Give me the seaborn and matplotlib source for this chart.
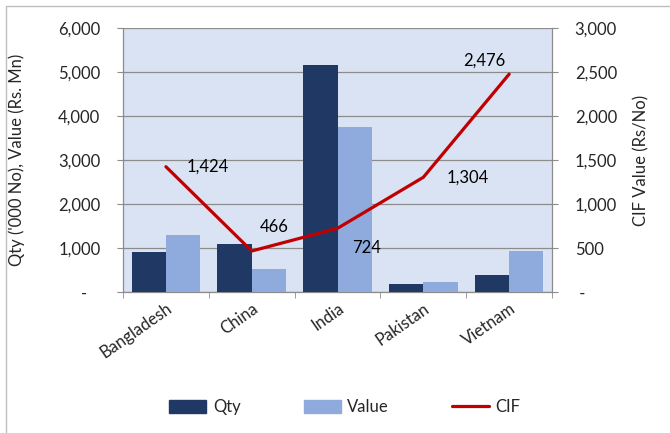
import numpy as np
import pandas as pd
import matplotlib
matplotlib.use("Agg")
import matplotlib.pyplot as plt
from matplotlib.ticker import FuncFormatter, FixedLocator
from matplotlib.patches import Rectangle
from matplotlib.lines import Line2D
import seaborn as sns

countries = ["Bangladesh", "China", "India", "Pakistan", "Vietnam"]
qty = [909, 1083, 5170, 174, 379]
value = [1295, 530, 3757, 235, 939]
cif = [1424, 466, 724, 1304, 2476]
cif_labels = ["1,424", "466", "724", "1,304", "2,476"]

sns.set_style("white")
plt.rcParams['font.family'] = ['Lato', 'DejaVu Sans']

c_qty = "#203864"
c_val = "#8FAADC"
c_cif = "#C00000"
bg = "#DAE3F3"
grid_c = "#8C8C8C"
fs = 12

df = pd.DataFrame({
    "Country": countries * 2,
    "Series": ["Qty"] * len(countries) + ["Value"] * len(countries),
    "Amount": qty + value,
})

fig = plt.figure(figsize=(6.7, 4.33), dpi=100)
fig.subplots_adjust(left=0.1836, right=0.824, top=0.9353, bottom=0.3256)
ax = fig.add_subplot(111)
ax.set_facecolor(bg)

sns.barplot(data=df, x="Country", y="Amount", hue="Series", order=countries,
            palette={"Qty": c_qty, "Value": c_val}, width=0.8, ax=ax,
            saturation=1, legend=False, zorder=3)
for p in ax.patches:
    p.set_edgecolor("none")

ax.set_ylim(0, 6000)
ax.set_xlim(-0.5, len(countries) - 0.5)
ax.yaxis.set_major_locator(FixedLocator(np.arange(0, 6001, 1000)))
fmt_l = FuncFormatter(lambda v, p: "-   " if v == 0 else f"{v:,.0f}")
fmt_r = FuncFormatter(lambda v, p: " -" if v == 0 else f"{v:,.0f}")
ax.yaxis.set_major_formatter(fmt_l)
ax.grid(axis="y", color=grid_c, linewidth=0.9, zorder=0)
ax.set_axisbelow(True)
ax.set_xlabel("")
ax.set_ylabel("Qty ('000 No), Value (Rs. Mn)", fontsize=fs, labelpad=24)
ax.tick_params(axis="y", which="major", length=4.3, color=grid_c, labelsize=fs, pad=12, left=True)

# x ticks: labels at centers, tick marks at boundaries
ax.set_xticks(range(len(countries)))
ax.set_xticklabels(countries, rotation=35, ha="right", rotation_mode="anchor", fontsize=fs)
ax.tick_params(axis="x", which="major", length=0, pad=6)
ax.set_xticks(np.arange(-0.5, len(countries), 1.0), minor=True)
ax.tick_params(axis="x", which="minor", length=4.3, color=grid_c, bottom=True)

for s in ["left", "bottom", "right"]:
    ax.spines[s].set_color(grid_c)
    ax.spines[s].set_linewidth(0.9)
ax.spines["top"].set_visible(False)

ax2 = ax.twinx()
sns.lineplot(x=countries, y=cif, ax=ax2, color=c_cif, linewidth=2.3, sort=False, zorder=5)
ax2.set_ylim(0, 3000)
ax2.yaxis.set_major_locator(FixedLocator(np.arange(0, 3001, 500)))
ax2.yaxis.set_major_formatter(fmt_r)
ax2.set_ylabel("CIF Value (Rs/No)", fontsize=fs, labelpad=12)
ax2.tick_params(axis="y", length=4.3, color=grid_c, labelsize=fs, pad=12, right=True)
for s in ["left", "bottom", "right", "top"]:
    ax2.spines[s].set_visible(False)
ax2.grid(False)

offsets = [(30, 0), (16, 17), (21, -14), (32, 0), (-18, 10)]
for i, (lab, off) in enumerate(zip(cif_labels, offsets)):
    ax2.annotate(lab, xy=(i, cif[i]), xytext=off, textcoords="offset points",
                 ha="center", va="center", fontsize=fs, color="black")

handles = [Rectangle((0, 0), 1, 1, color=c_qty),
           Rectangle((0, 0), 1, 1, color=c_val),
           Line2D([0], [0], color=c_cif, linewidth=2.3)]
fig.legend(handles, ["Qty", "Value", "CIF"], loc="center", bbox_to_anchor=(0.515, 0.06),
           ncol=3, frameon=False, fontsize=fs, handlelength=2.2, handleheight=0.8,
           columnspacing=3.8, handletextpad=0.4)

fig.patches.append(Rectangle((0.009, -0.05), 1.2, 1.035, transform=fig.transFigure,
                             fill=False, edgecolor="#BFBFBF", linewidth=1.0))

fig.savefig("out.png", dpi=100)
